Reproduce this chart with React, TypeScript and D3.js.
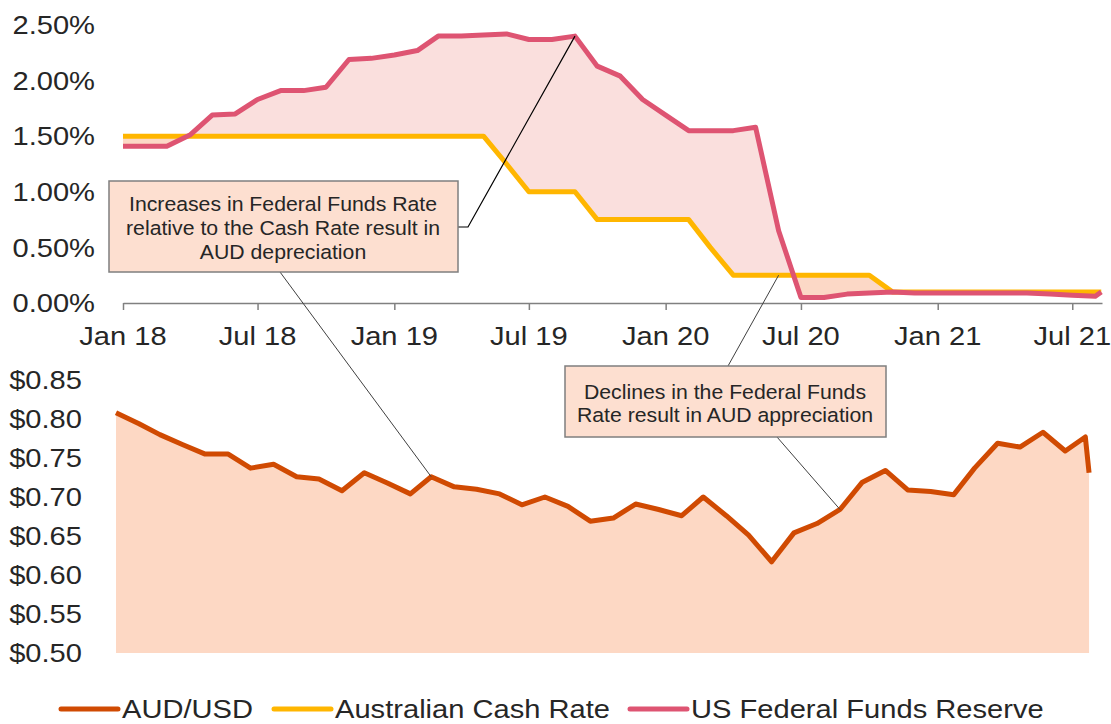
import * as d3 from "d3";
import React, { useEffect, useRef } from "react";

// monthly observations, Jan 18 .. Aug 21, plus one early-August reading
const rateDates = [...d3.timeMonth.range(new Date(2018, 0, 1), new Date(2021, 8, 1)), new Date(2021, 7, 9)];

const usFedFunds = [
  1.41, 1.41, 1.41, 1.51, 1.69, 1.70, 1.83, 1.91, 1.91, 1.94, 2.19, 2.20,
  2.23, 2.27, 2.40, 2.40, 2.41, 2.42, 2.37, 2.37, 2.40, 2.13, 2.04, 1.83,
  1.69, 1.55, 1.55, 1.55, 1.58, 0.65, 0.05, 0.05, 0.08, 0.09, 0.10, 0.09,
  0.09, 0.09, 0.09, 0.09, 0.09, 0.08, 0.07, 0.06, 0.10
];

const ausCashRate = [
  1.50, 1.50, 1.50, 1.50, 1.50, 1.50, 1.50, 1.50, 1.50, 1.50, 1.50, 1.50,
  1.50, 1.50, 1.50, 1.50, 1.50, 1.25, 1.00, 1.00, 1.00, 0.75, 0.75, 0.75,
  0.75, 0.75, 0.50, 0.25, 0.25, 0.25, 0.25, 0.25, 0.25, 0.25, 0.10, 0.10,
  0.10, 0.10, 0.10, 0.10, 0.10, 0.10, 0.10, 0.10, 0.10
];

const audDates = [...d3.timeMonth.range(new Date(2018, 0, 1), new Date(2021, 7, 1)), new Date(2021, 6, 28), new Date(2021, 7, 2)];

const audUsd = [
  0.808, 0.794, 0.780, 0.767, 0.755, 0.755, 0.737, 0.742, 0.726, 0.723, 0.708, 0.731,
  0.718, 0.704, 0.726, 0.713, 0.710, 0.704, 0.690, 0.700, 0.688, 0.669, 0.673, 0.691,
  0.684, 0.676, 0.700, 0.676, 0.651, 0.617, 0.654, 0.666, 0.684, 0.719, 0.734, 0.709,
  0.707, 0.703, 0.737, 0.769, 0.764, 0.783, 0.759, 0.777, 0.731
];

const rateTicks = [0, 0.5, 1, 1.5, 2, 2.5];
const audTicks = [0.5, 0.55, 0.6, 0.65, 0.7, 0.75, 0.8, 0.85];

const legendItems = ["AUD/USD", "Australian Cash Rate", "US Federal Funds Reserve"];

const noteUp = ["Increases in Federal Funds Rate", "relative to the Cash Rate result in", "AUD depreciation"];
const noteDown = ["Declines in the Federal Funds", "Rate result in AUD appreciation"];

const ORANGE = "#D04A02";
const YELLOW = "#FFB600";
const PINK = "#DE5472";
const FONT = "'Liberation Sans', Arial, sans-serif";
const SX = 1.12; // the picture's text is a little wide

export default function App() {
  const width = 1111;
  const height = 724;
  const svgRef = useRef(null);

  useEffect(() => {
    const svg = d3.select(svgRef.current);
    svg.selectAll("*").remove();

    const dateDomain = [new Date(2018, 0, 1), new Date(2021, 7, 10)];
    const x = d3.scaleTime().domain(dateDomain).range([123, 1102]);
    const y = d3.scaleLinear().domain([0, 2.5]).range([303, 25]);
    const x2 = d3.scaleTime().domain(dateDomain).range([116, 1095]);
    const y2 = d3.scaleLinear().domain([0.5, 0.85]).range([653, 380]);

    const label = (g, px, py, txt, anchor, size, sx) =>
      g.append("text")
        .attr("transform", `translate(${px},${py}) scale(${sx},1)`)
        .attr("text-anchor", anchor)
        .attr("dy", "0.35em")
        .style("font-size", size + "px")
        .style("font-family", FONT)
        .attr("fill", "#262626")
        .text(txt);

    const rates = rateDates.map((d, i) => ({ date: d, us: usFedFunds[i], aus: ausCashRate[i] }));
    const aud = audDates.map((d, i) => ({ date: d, v: audUsd[i] }));

    // clip regions above / below the cash rate line
    const defs = svg.append("defs");
    defs.append("clipPath").attr("id", "above")
      .append("path")
      .attr("d", d3.area().x(d => x(d.date)).y0(0).y1(d => y(d.aus))(rates));
    defs.append("clipPath").attr("id", "below")
      .append("path")
      .attr("d", d3.area().x(d => x(d.date)).y0(height).y1(d => y(d.aus))(rates));

    const band = d3.area().x(d => x(d.date)).y0(d => y(d.aus)).y1(d => y(d.us));
    svg.append("path").attr("d", band(rates)).attr("fill", "#FADFDD").attr("clip-path", "url(#above)");
    svg.append("path").attr("d", band(rates)).attr("fill", "#FCD8C6").attr("clip-path", "url(#below)");

    // AUD area
    svg.append("path")
      .attr("d", d3.area().x(d => x2(d.date)).y0(y2(0.5)).y1(d => y2(d.v))(aud))
      .attr("fill", "#FDD8C4");

    // top x axis
    const ax = svg.append("g")
      .attr("transform", `translate(0,${y(0)})`)
      .call(d3.axisBottom(x).ticks(d3.timeMonth.every(6)).tickSize(7).tickSizeOuter(0).tickFormat(() => ""));
    ax.select(".domain").attr("stroke", "#808080").attr("stroke-width", 1.5);
    ax.selectAll(".tick line").attr("stroke", "#808080").attr("stroke-width", 1.5);

    const fmtDate = d3.timeFormat("%b %y");
    x.ticks(d3.timeMonth.every(6)).forEach(t => label(svg, x(t), 336, fmtDate(t), "middle", 26, SX));

    rateTicks.forEach(t => label(svg, 95, y(t), d3.format(".2f")(t) + "%", "end", 26, SX));
    audTicks.forEach(t => label(svg, 82, y2(t), "$" + d3.format(".2f")(t), "end", 26, SX));

    // series lines
    const drawLine = (data, fx, fy, color) =>
      svg.append("path")
        .attr("d", d3.line().x(fx).y(fy)(data))
        .attr("fill", "none")
        .attr("stroke", color)
        .attr("stroke-width", 5)
        .attr("stroke-linejoin", "round");

    drawLine(rates, d => x(d.date), d => y(d.aus), YELLOW);
    drawLine(rates, d => x(d.date), d => y(d.us), PINK);
    drawLine(aud, d => x2(d.date), d => y2(d.v), ORANGE);

    // annotation 1
    const peak = rates[20];
    const audPeak = aud[14];
    svg.append("polyline")
      .attr("points", `458,227 468,227 ${x(peak.date)},${y(peak.us)}`)
      .attr("fill", "none").attr("stroke", "#000").attr("stroke-width", 1.2);
    svg.append("line")
      .attr("x1", 280).attr("y1", 272).attr("x2", x2(audPeak.date)).attr("y2", y2(audPeak.v))
      .attr("stroke", "#404040").attr("stroke-width", 1);
    svg.append("rect")
      .attr("x", 109).attr("y", 181).attr("width", 349).attr("height", 91)
      .attr("fill", "#FDDFD0").attr("stroke", "#7F7F7F").attr("stroke-width", 1.5);
    noteUp.forEach((s, i) => label(svg, 283, 204 + i * 24, s, "middle", 19.5, 1.09));

    // annotation 2
    const cashPoint = rates[29];
    const audRise = aud[32];
    svg.append("line")
      .attr("x1", 728).attr("y1", 366).attr("x2", x(cashPoint.date)).attr("y2", y(cashPoint.aus))
      .attr("stroke", "#404040").attr("stroke-width", 1);
    svg.append("line")
      .attr("x1", 777).attr("y1", 437).attr("x2", x2(audRise.date)).attr("y2", y2(audRise.v))
      .attr("stroke", "#404040").attr("stroke-width", 1);
    svg.append("rect")
      .attr("x", 565).attr("y", 366).attr("width", 321).attr("height", 71)
      .attr("fill", "#FDDFD0").attr("stroke", "#7F7F7F").attr("stroke-width", 1.5);
    noteDown.forEach((s, i) => label(svg, 725, 392 + i * 23, s, "middle", 19.5, 1.09));

    // legend
    const legendColors = [ORANGE, YELLOW, PINK];
    const legendX = [61, 274, 630];
    legendItems.forEach((name, i) => {
      svg.append("line")
        .attr("x1", legendX[i]).attr("x2", legendX[i] + 57)
        .attr("y1", 709).attr("y2", 709)
        .attr("stroke", legendColors[i]).attr("stroke-width", 5).attr("stroke-linecap", "round");
      label(svg, legendX[i] + 61, 709, name, "start", 26, SX);
    });
  }, []);

  return (
    <svg ref={svgRef}
      width={width}
      height={height}
      style={{ position: "absolute", left: 0, top: 0, background: "#fff" }}>
    </svg>
  );
}
